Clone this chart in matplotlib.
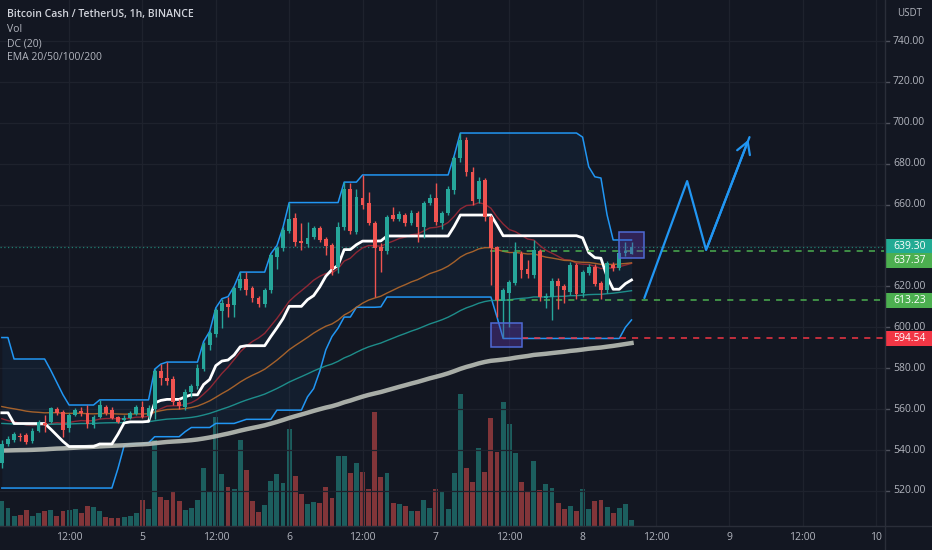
import numpy as np
import pandas as pd
import matplotlib
matplotlib.use("Agg")
import matplotlib.pyplot as plt
from matplotlib.patches import Rectangle
from matplotlib.lines import Line2D
from matplotlib.transforms import blended_transform_factory

plt.rcParams['font.family'] = ['Open Sans', 'DejaVu Sans']

BG = '#131722'
UP = '#26a69a'
DOWN = '#ef5350'
TXT = '#b2b5be'
GRID = '#1e222d'
DC_BLUE = '#2196f3'

# hourly bars, hour 0 = day 4 00:00
hours = np.arange(1, 105)
opens = [533.5, 543.0, 545.0, 547.0, 547.5, 544.5, 549.5, 553.0, 553.5, 560.0,
         558.5, 551.0, 557.0, 559.0, 558.0, 552.0, 556.0, 561.0, 559.5, 556.0,
         554.7, 555.7, 557.6, 561.0, 556.6, 560.0, 578.6, 575.0, 574.7, 563.5,
         561.0, 568.4, 571.3, 579.6, 591.3, 596.7, 608.0, 611.4, 610.9, 619.2,
         623.6, 619.0, 614.3, 611.4, 618.2, 634.4, 638.8, 647.0, 653.4, 642.0,
         640.7, 644.2, 648.6, 643.0, 640.2, 629.5, 649.0, 667.6, 646.6, 663.0,
         660.8, 651.0, 639.3, 637.3, 655.0, 653.0, 655.0, 651.0, 656.0, 649.0,
         661.0, 663.0, 651.0, 656.0, 667.0, 682.8, 691.6, 676.0, 662.7, 672.0,
         654.0, 639.3, 613.0, 617.0, 621.7, 636.0, 628.5, 625.6, 637.3, 614.3,
         614.8, 622.6, 620.0, 617.3, 630.5, 616.8, 626.5, 629.5, 621.7, 618.2,
         630.5, 629.0, 636.3, 636.0]
closes = [543.0, 545.5, 548.0, 546.5, 544.0, 549.5, 553.7, 552.0, 560.5, 558.0,
          550.0, 557.0, 559.5, 558.0, 552.5, 556.0, 562.0, 558.0, 555.7, 553.7,
          555.7, 558.0, 561.0, 556.0, 560.5, 578.6, 575.2, 573.7, 563.5, 561.5,
          568.4, 571.3, 580.0, 591.8, 597.0, 608.5, 612.0, 610.0, 619.2, 623.6,
          618.2, 614.3, 611.4, 618.2, 635.4, 638.8, 647.6, 653.0, 641.7, 641.0,
          643.7, 648.6, 642.7, 639.8, 628.5, 649.0, 667.6, 647.0, 663.7, 659.8,
          651.0, 638.8, 637.3, 654.0, 653.0, 655.4, 651.0, 656.0, 649.0, 661.0,
          663.0, 651.5, 656.0, 667.6, 682.8, 691.6, 676.0, 662.0, 671.5, 654.0,
          639.0, 613.3, 618.0, 622.0, 637.0, 628.0, 626.0, 637.8, 614.8, 615.3,
          622.6, 620.0, 618.0, 630.5, 616.3, 627.0, 629.5, 621.2, 618.2, 631.5,
          629.0, 636.3, 637.4, 639.3]
highs = [545.0, 547.0, 549.0, 548.5, 548.5, 551.0, 554.5, 557.0, 561.0, 561.0,
         559.5, 558.0, 560.5, 561.0, 562.0, 557.0, 564.5, 562.0, 561.0, 556.5,
         557.0, 559.0, 562.0, 564.0, 562.0, 579.5, 582.0, 583.0, 576.0, 565.0,
         570.0, 572.5, 582.0, 593.0, 598.0, 609.5, 614.0, 615.0, 620.0, 627.0,
         627.0, 620.0, 615.5, 619.0, 636.0, 640.0, 649.0, 661.0, 656.0, 651.0,
         651.5, 649.5, 649.5, 644.0, 641.0, 651.5, 671.0, 670.5, 667.5, 674.5,
         666.0, 652.0, 641.0, 655.0, 659.0, 657.0, 656.0, 657.5, 657.0, 662.0,
         665.0, 670.5, 657.0, 669.0, 684.0, 695.0, 693.0, 678.5, 673.6, 673.0,
         655.0, 640.0, 619.0, 623.0, 641.7, 637.5, 633.0, 642.7, 638.5, 617.0,
         624.0, 624.0, 621.0, 632.0, 631.5, 628.0, 631.0, 631.0, 622.5, 632.5,
         632.0, 638.0, 641.5, 641.7]
lows = [531.0, 542.0, 544.0, 544.5, 543.0, 543.5, 549.0, 549.0, 553.0, 557.0,
        546.5, 549.0, 556.5, 556.5, 551.0, 551.0, 555.5, 557.0, 555.0, 553.0,
        554.0, 555.0, 557.0, 555.5, 555.0, 555.0, 571.8, 572.0, 562.0, 560.0,
        559.5, 566.0, 570.0, 578.5, 589.0, 595.5, 599.6, 605.0, 605.0, 618.0,
        616.0, 612.5, 609.8, 610.0, 617.0, 628.5, 637.5, 646.0, 640.0, 637.8,
        639.5, 643.0, 641.5, 635.4, 625.6, 626.5, 647.5, 645.5, 645.5, 658.0,
        650.0, 614.8, 627.0, 636.0, 652.0, 652.0, 649.5, 650.0, 641.9, 643.7,
        660.0, 650.0, 648.0, 655.0, 665.0, 681.0, 674.0, 660.0, 661.0, 652.0,
        620.7, 605.0, 594.54, 600.0, 620.5, 624.0, 624.0, 624.0, 613.0, 609.4,
        603.6, 609.0, 612.0, 616.0, 614.0, 615.0, 625.5, 620.0, 614.0, 617.0,
        627.5, 628.0, 635.0, 635.8]
volume = [25, 18, 10, 11, 16, 10, 13, 15, 16, 10, 15, 16, 17, 13, 20, 19, 15, 9, 8, 8,
          9, 10, 13, 26, 17, 86, 29, 26, 35, 25, 16, 18, 26, 58, 34, 109, 52, 39, 37, 86,
          56, 25, 14, 21, 45, 52, 43, 97, 50, 32, 22, 24, 23, 39, 28, 70, 70, 53, 63, 54,
          37, 114, 49, 53, 23, 22, 20, 15, 15, 26, 18, 37, 35, 17, 53, 132, 58, 44, 78, 54,
          108, 74, 124, 102, 73, 44, 34, 65, 36, 42, 38, 23, 17, 20, 15, 37, 17, 25, 26, 19,
          13, 18, 22, 6]

# Donchian values of the first 19 bars (their window reaches before the chart)
dc_upper_head = [595.0, 595.0, 584.5, 584.5, 584.5, 584.5, 584.5, 584.5, 579.0, 573.0,
                 567.0, 562.0, 562.0, 562.0, 562.0, 562.0, 564.5, 564.5, 564.5]
dc_lower_head = [521.4, 521.4, 521.4, 521.4, 521.4, 521.4, 521.4, 521.4, 521.4, 521.4,
                 521.4, 521.4, 521.4, 521.4, 521.4, 521.4, 521.4, 521.4, 521.4]

ema_periods = [20, 50, 100, 200]
ema_seed = [556.6, 562.0, 553.2, 539.7]
ema_colors = ['#9c2936', '#b5692b', '#1f9a96', '#b9beb6']
ema_widths = [1.0, 1.0, 1.0, 3.2]

last_price = 639.30
level_prices = [637.37, 613.23, 594.54]
level_start = [80.8, 81.6, 86.1]
level_colors = ['#4caf50', '#4caf50', '#f23645']

tag_values = ['639.30', '637.37', '613.23', '594.54']
tag_y = [639.5, 632.6, 613.23, 594.54]
tag_colors = ['#22ab94', '#4caf50', '#4caf50', '#f23645']

boxes = [(81.0, 86.1, 590.5, 602.3), (102.0, 106.0, 633.7, 646.5)]
proj_x = [106.1, 113.1, 116.2, 123.3]
proj_y = [614.3, 671.5, 637.8, 693.0]

xtick_hours = [12, 24, 36, 48, 60, 72, 84, 96, 108, 120, 132, 144]
xtick_labels = ['12:00', '5', '12:00', '6', '12:00', '7', '12:00', '8', '12:00', '9', '12:00', '10']
ytick_prices = [740, 720, 700, 680, 660, 620, 600, 580, 560, 540, 520]
grid_prices = [520, 540, 560, 580, 600, 620, 640, 660, 680, 700, 720, 740]

W, H = 932, 550
fig = plt.figure(figsize=(W / 100, H / 100), dpi=100, facecolor=BG)
axv = fig.add_axes([0, 24 / H, 884 / W, 526 / H])
ax = fig.add_axes([0, 24 / H, 884 / W, 526 / H], sharex=axv)
axv.set_facecolor(BG)
ax.patch.set_visible(False)
for a in (ax, axv):
    a.axis('off')

ax.set_xlim(0.7, 145.3)
ax.set_ylim(502.84, 760.05)

o = np.array(opens)
c = np.array(closes)
hi = np.array(highs)
lo = np.array(lows)
up = c >= o
col = np.where(up, UP, DOWN)

# volume pane
axv.bar(hours, volume, width=0.8, color=col, alpha=0.5, linewidth=0)
axv.set_ylim(0, max(volume) * 526 / 132)

# grid
for h in xtick_hours:
    ax.axvline(h, color=GRID, lw=0.9, zorder=0)
for p in grid_prices:
    ax.axhline(p, color=GRID, lw=0.9, zorder=0)

# Donchian channel
hs = pd.Series(hi)
ls = pd.Series(lo)
upper = hs.rolling(20).max().to_numpy()
lower = ls.rolling(20).min().to_numpy()
upper[:19] = dc_upper_head
lower[:19] = dc_lower_head
basis = (upper + lower) / 2
ax.fill_between(hours, lower, upper, color=DC_BLUE, alpha=0.06, lw=0, zorder=1)
ax.plot(hours, upper, color=DC_BLUE, lw=1.1, zorder=2)
ax.plot(hours, lower, color=DC_BLUE, lw=1.1, zorder=2)
ax.plot(hours, basis, color='white', lw=2.0, zorder=3)

# EMAs
for p, s, clr, lw in zip(ema_periods, ema_seed, ema_colors, ema_widths):
    ema = pd.Series([s] + closes).ewm(span=p, adjust=False).mean().to_numpy()[1:]
    ax.plot(hours, ema, color=clr, lw=lw, alpha=0.9, zorder=2.5)

# candles
ax.vlines(hours, lo, hi, colors=col, lw=1.0, zorder=4)
body = np.maximum(np.abs(c - o), 0.4)
ax.bar(hours, body, bottom=np.minimum(o, c), width=0.62, color=col, lw=0, zorder=5)

# last price dotted line
ax.axhline(last_price, color='#22ab94', lw=0.9, ls=(0, (1, 2)), alpha=0.7, zorder=1)

# horizontal levels
for p, x0, clr in zip(level_prices, level_start, level_colors):
    ax.plot([x0, 145.3], [p, p], color=clr, lw=1.1, ls=(0, (4, 4)), zorder=3)

# rectangles
for x0, x1, y0, y1 in boxes:
    ax.add_patch(Rectangle((x0, y0), x1 - x0, y1 - y0, facecolor='#673ab7', alpha=0.35,
                           edgecolor='none', zorder=6))
    ax.add_patch(Rectangle((x0, y0), x1 - x0, y1 - y0, facecolor='none',
                           edgecolor='#4f6ad4', lw=1.1, zorder=6))

# projected path
ax.plot(proj_x, proj_y, color='#2196f3', lw=1.6, zorder=6, solid_capstyle='round')
ax.annotate('', xy=(proj_x[-1], proj_y[-1]), xytext=(proj_x[-2], proj_y[-2]),
            arrowprops=dict(arrowstyle='->,head_length=0.6,head_width=0.35',
                            color='#2196f3', lw=1.6, mutation_scale=14), zorder=6)

# separators
fig.add_artist(Line2D([884.5 / W, 884.5 / W], [0, 1], color='#2a2e39', lw=1))
fig.add_artist(Line2D([0, 1], [24 / H, 24 / H], color='#2a2e39', lw=1))

# price scale
yt = blended_transform_factory(fig.transFigure, ax.transData)
for p in ytick_prices:
    ax.text(893 / W, p, f'{p:.2f}', transform=yt, color=TXT, fontsize=7.5,
            va='center', ha='left', clip_on=False)
    ax.add_line(Line2D([885 / W, 889 / W], [p, p], transform=yt, color='#50535e', lw=1,
                       clip_on=False))
for txt, p, clr in zip(tag_values, tag_y, tag_colors):
    ax.add_patch(Rectangle((886 / W, p - 3.67), 46 / W, 7.33, transform=yt,
                           facecolor=clr, edgecolor='none', clip_on=False, zorder=10))
    ax.text(893 / W, p, txt, transform=yt, color='white', fontsize=7.5,
            va='center', ha='left', clip_on=False, zorder=11)
fig.text(897 / W, 1 - 14 / H, 'USDT', color=TXT, fontsize=7, va='center', ha='left')

# time scale
xt = blended_transform_factory(ax.transData, fig.transFigure)
for h, lab in zip(xtick_hours, xtick_labels):
    ax.text(h, 12 / H, lab, transform=xt, color=TXT, fontsize=7.5,
            va='center', ha='center', clip_on=False)

# legend lines
fig.text(7 / W, 1 - 14 / H, 'Bitcoin Cash / TetherUS, 1h, BINANCE', color='#d1d4dc',
         fontsize=7.5, fontweight='semibold', va='center', ha='left')
for i, lab in enumerate(['Vol', 'DC (20)', 'EMA 20/50/100/200']):
    fig.text(7 / W, 1 - (30 + 14 * i) / H, lab, color=TXT, fontsize=7.5,
             va='center', ha='left')

fig.savefig('out.png', dpi=100, facecolor=BG)
